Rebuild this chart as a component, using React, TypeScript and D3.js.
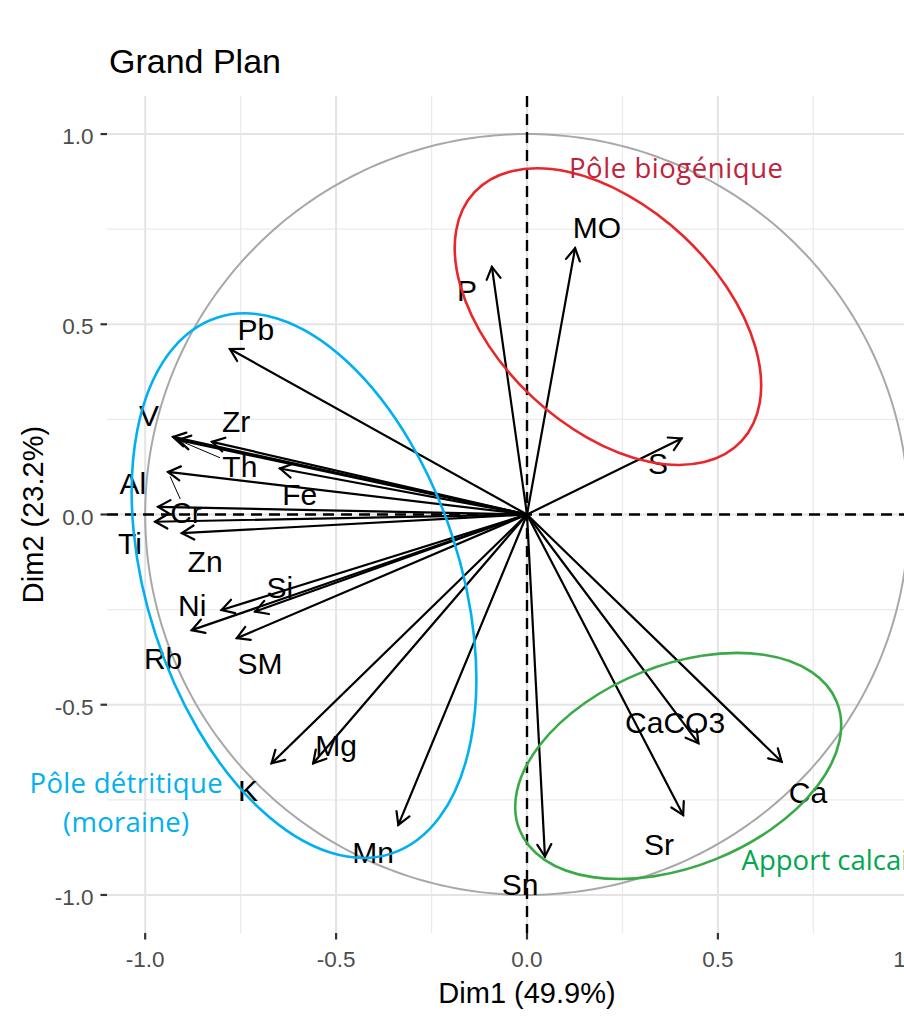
import React from "react";
import * as d3 from "d3";

// ---------- data ----------
const VARS = ["Pb","V","Th","Zr","Fe","Cr","Al","Ti","Zn","Ni","Si","Rb","SM","K","Mg","Mn","Sn","CaCO3","Ca","Sr","P","MO","S"];
const DIM1 = [-0.778,-0.927,-0.914,-0.825,-0.647,-0.940,-0.966,-0.974,-0.904,-0.800,-0.712,-0.878,-0.760,-0.669,-0.560,-0.337,0.047,0.449,0.667,0.409,-0.092,0.126,0.405];
const DIM2 = [0.435,0.204,0.196,0.191,0.121,0.112,0.020,-0.019,-0.049,-0.251,-0.255,-0.304,-0.325,-0.654,-0.654,-0.816,-0.899,-0.601,-0.650,-0.790,0.651,0.700,0.200];
// label (repelled) positions, in Dim units
const LAB1 = [-0.710,-0.990,-0.752,-0.762,-0.595,-0.893,-1.032,-1.040,-0.843,-0.877,-0.647,-0.953,-0.699,-0.731,-0.500,-0.403,-0.018,0.388,0.736,0.346,-0.157,0.183,0.343];
const LAB2 = [0.488,0.262,0.127,0.246,0.054,0.007,0.083,-0.075,-0.122,-0.238,-0.191,-0.377,-0.390,-0.724,-0.606,-0.887,-0.971,-0.545,-0.729,-0.866,0.590,0.756,0.135];
const SEGMENT_VARS = ["Th", "Cr"];

const X_TICKS = [-1.0, -0.5, 0.0, 0.5, 1.0];
const Y_TICKS = [-1.0, -0.5, 0.0, 0.5, 1.0];
const MINOR = [-0.75, -0.25, 0.25, 0.75];
const X_TICK_LABELS = ["-1.0", "-0.5", "0.0", "0.5", "1.0"];
const Y_TICK_LABELS = ["-1.0", "-0.5", "0.0", "0.5", "1.0"];

const TITLE = "Grand Plan";
const X_TITLE = "Dim1 (49.9%)";
const Y_TITLE = "Dim2 (23.2%)";

// group ellipses: centre (Dim units), semi-axes (Dim units), screen rotation (deg)
const GROUP_NAMES = ["detritique", "biogenique", "calcaire"];
const GROUP_CX = [-0.584, 0.212, 0.396];
const GROUP_CY = [-0.187, 0.520, -0.661];
const GROUP_RX = [0.738, 0.478, 0.448];
const GROUP_RY = [0.411, 0.290, 0.264];
const GROUP_ROT = [72, 43, -22];
const GROUP_STROKE = ["#00B0F0", "#E8262B", "#3AAA48"];

const NOTE_LINES = ["Pôle détritique", "(moraine)", "Pôle biogénique", "Apport calcaire"];
const NOTE_X = [-1.050, -1.050, 0.110, 0.562];
const NOTE_Y = [-0.731, -0.834, 0.884, -0.934];
const NOTE_ANCHOR = ["middle", "middle", "start", "start"];
const NOTE_COLOR = ["#00B0F0", "#00B0F0", "#C0223B", "#00A650"];
const NOTE_LEN = [193, 126, 214, 0];

// ---------- layout ----------
const W = 904, H = 1018;
const PANEL = { left: 107, right: 947, top: 96, bottom: 933 };
const FONT = "'Liberation Sans', Arial, Helvetica, sans-serif";
const NOTE_FONT = "'Open Sans', 'Noto Sans', sans-serif";

export default function App() {
  const x = d3.scaleLinear().domain([-1.1, 1.1]).range([PANEL.left, PANEL.right]);
  const y = d3.scaleLinear().domain([-1.1, 1.1]).range([PANEL.bottom, PANEL.top]);
  const ux = x(1) - x(0);
  const uy = y(0) - y(1);

  const circle = d3.range(0, 361, 1).map((a) => [Math.cos((a * Math.PI) / 180), Math.sin((a * Math.PI) / 180)] as [number, number]);
  const circlePath = d3.line<[number, number]>().x((d) => x(d[0])).y((d) => y(d[1]))(circle) || "";

  const AH = 14, ANG = (30 * Math.PI) / 180;
  const labFont = 30;

  return (
    <svg width={W} height={H} style={{ position: "absolute", left: 0, top: 0, background: "#fff" }} fontFamily={FONT}>
      <rect x={0} y={0} width={W} height={H} fill="#fff" />
      {/* grid */}
      {MINOR.map((v) => (
        <g key={"mn" + v}>
          <line x1={x(v)} x2={x(v)} y1={PANEL.top} y2={PANEL.bottom} stroke="#EBEBEB" strokeWidth={1.3} />
          <line x1={PANEL.left} x2={PANEL.right} y1={y(v)} y2={y(v)} stroke="#EBEBEB" strokeWidth={1.3} />
        </g>
      ))}
      {X_TICKS.map((v) => (
        <line key={"gx" + v} x1={x(v)} x2={x(v)} y1={PANEL.top} y2={PANEL.bottom} stroke="#E4E4E4" strokeWidth={2} />
      ))}
      {Y_TICKS.map((v) => (
        <line key={"gy" + v} x1={PANEL.left} x2={PANEL.right} y1={y(v)} y2={y(v)} stroke="#E4E4E4" strokeWidth={2} />
      ))}

      {/* unit circle */}
      <path d={circlePath} fill="none" stroke="#A8A8A8" strokeWidth={2} />

      {/* zero lines */}
      <line x1={PANEL.left} x2={PANEL.right} y1={y(0)} y2={y(0)} stroke="#000" strokeWidth={2.4} strokeDasharray="11,7" />
      <line x1={x(0)} x2={x(0)} y1={PANEL.top} y2={PANEL.bottom} stroke="#000" strokeWidth={2.4} strokeDasharray="11,7" />

      {/* arrows */}
      {VARS.map((v, i) => {
        const x0 = x(0), y0 = y(0);
        const x1 = x(DIM1[i]), y1 = y(DIM2[i]);
        const a = Math.atan2(y1 - y0, x1 - x0);
        const w1 = [x1 - AH * Math.cos(a - ANG), y1 - AH * Math.sin(a - ANG)];
        const w2 = [x1 - AH * Math.cos(a + ANG), y1 - AH * Math.sin(a + ANG)];
        return (
          <g key={"ar" + v} stroke="#000" strokeWidth={2.2} fill="none" strokeLinecap="round">
            <line x1={x0} y1={y0} x2={x1} y2={y1} />
            <path d={`M${w1[0]},${w1[1]}L${x1},${y1}L${w2[0]},${w2[1]}`} strokeLinejoin="miter" />
          </g>
        );
      })}

      {/* repel segments */}
      {VARS.map((v, i) => {
        if (!SEGMENT_VARS.includes(v)) return null;
        const px = x(DIM1[i]), py = y(DIM2[i]);
        const lx = x(LAB1[i]), ly = y(LAB2[i]);
        const dx = lx - px, dy = ly - py;
        const len = Math.hypot(dx, dy);
        const ux2 = dx / len, uy2 = dy / len;
        const hw = (v.length * 0.6 * labFont) / 2, hh = 11;
        const t = Math.min(hw / Math.abs(ux2), hh / Math.abs(uy2)) + 2;
        return (
          <line key={"sg" + v} x1={px + ux2 * 5} y1={py + uy2 * 5} x2={lx - ux2 * t} y2={ly - uy2 * t} stroke="#000" strokeWidth={1} />
        );
      })}

      {/* variable labels */}
      {VARS.map((v, i) => (
        <text key={"lb" + v} x={x(LAB1[i])} y={y(LAB2[i])} dy="0.36em" textAnchor="middle" fontSize={labFont} fill="#000">
          {v}
        </text>
      ))}

      {/* axis ticks */}
      {Y_TICKS.map((v) => (
        <line key={"ty" + v} x1={PANEL.left - 6.5} x2={PANEL.left} y1={y(v)} y2={y(v)} stroke="#333" strokeWidth={2.2} />
      ))}
      {X_TICKS.map((v) => (
        <line key={"tx" + v} x1={x(v)} x2={x(v)} y1={PANEL.bottom} y2={PANEL.bottom + 6.5} stroke="#333" strokeWidth={2.2} />
      ))}
      {Y_TICKS.map((v, i) => (
        <text key={"yl" + v} x={93.5} y={y(v) + 10} textAnchor="end" fontSize={22.5} fill="#4D4D4D">
          {Y_TICK_LABELS[i]}
        </text>
      ))}
      {X_TICKS.map((v, i) => (
        <text key={"xl" + v} x={x(v)} y={966.5} textAnchor="middle" fontSize={22.5} fill="#4D4D4D">
          {X_TICK_LABELS[i]}
        </text>
      ))}

      {/* titles */}
      <text x={109} y={73} fontSize={34} fill="#000">{TITLE}</text>
      <text x={(PANEL.left + PANEL.right) / 2} y={1003} textAnchor="middle" fontSize={29} fill="#000">{X_TITLE}</text>
      <text transform={`translate(43,${(PANEL.top + PANEL.bottom) / 2}) rotate(-90)`} textAnchor="middle" fontSize={29} fill="#000">{Y_TITLE}</text>

      {/* group ellipses */}
      {GROUP_NAMES.map((g, i) => (
        <ellipse
          key={"el" + g}
          cx={0}
          cy={0}
          rx={GROUP_RX[i] * ux}
          ry={GROUP_RY[i] * uy}
          transform={`translate(${x(GROUP_CX[i])},${y(GROUP_CY[i])}) rotate(${GROUP_ROT[i]})`}
          fill="none"
          stroke={GROUP_STROKE[i]}
          strokeWidth={2.6}
        />
      ))}

      {/* group notes */}
      {NOTE_LINES.map((t, i) => (
        <text
          key={"nt" + i}
          x={x(NOTE_X[i])}
          y={y(NOTE_Y[i])}
          textAnchor={NOTE_ANCHOR[i] as any}
          fontFamily={NOTE_FONT}
          fontSize={27.5}
          fill={NOTE_COLOR[i]}
          {...(NOTE_LEN[i] > 0 ? { textLength: NOTE_LEN[i] } : {})}
        >
          {t}
        </text>
      ))}
    </svg>
  );
}
